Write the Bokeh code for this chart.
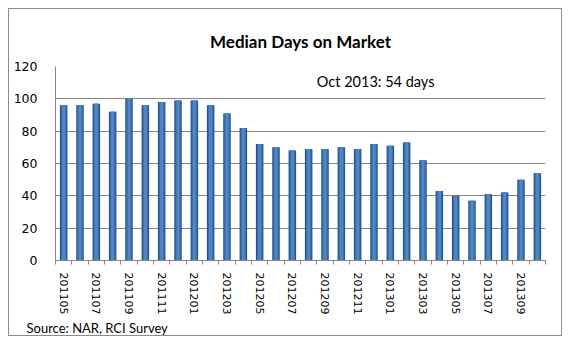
from bokeh.plotting import figure
from bokeh.models import Range1d, FixedTicker, Label, Title, ColumnDataSource
from bokeh.embed import file_html
from bokeh.resources import INLINE

months = ["201105", "201106", "201107", "201108", "201109", "201110",
          "201111", "201112", "201201", "201202", "201203", "201204",
          "201205", "201206", "201207", "201208", "201209", "201210",
          "201211", "201212", "201301", "201302", "201303", "201304",
          "201305", "201306", "201307", "201308", "201309", "201310"]
days = [96, 96, 97, 92, 100, 96, 98, 99, 99, 96, 91, 82,
        72, 70, 68, 69, 69, 70, 69, 72, 71, 73, 62, 43,
        40, 37, 41, 42, 50, 54]
y_ticks = [0, 20, 40, 60, 80, 100, 120]
title_text = "Median Days on Market"
note_text = "Oct 2013: 54 days"
source_text = "Source: NAR, RCI Survey"

n = len(months)
xs = list(range(1, n + 1))
src = ColumnDataSource(dict(x=xs, top=days))

p = figure(width=554, height=328, output_backend="svg", toolbar_location=None,
           x_range=Range1d(0.5, n + 0.5), y_range=Range1d(y_ticks[0], y_ticks[-1]),
           min_border_left=46, min_border_right=18, min_border_top=57,
           min_border_bottom=77, margin=(8, 8, 8, 8))
p.styles = {"border": "1px solid #8c8c8c"}
p.outline_line_color = None
p.background_fill_color = "white"
p.border_fill_color = "white"

p.title.text = title_text
p.title.align = "center"
p.title.vertical_align = "top"
p.title.text_font = "Lato"
p.title.text_font_style = "bold"
p.title.text_font_size = "17px"
p.title.text_color = "black"
p.title.standoff = 25

# bars with a simple shaded look
p.vbar(x="x", top="top", width=0.46, source=src, fill_color="#24538c", line_color=None)
p.vbar(x="x", top="top", width=0.34, source=src, fill_color="#3a6eae", line_color=None)
p.vbar(x="x", top="top", width=0.18, source=src, fill_color="#4f86c9", line_color=None)

# y axis
p.yaxis.ticker = FixedTicker(ticks=y_ticks)
p.yaxis.axis_line_color = "#868686"
p.yaxis.major_tick_line_color = None
p.yaxis.minor_tick_line_color = None
p.yaxis.major_label_text_font = "DejaVu Sans"
p.yaxis.major_label_text_font_size = "12.5px"
p.yaxis.major_label_text_color = "black"
p.yaxis.major_label_standoff = 12
p.ygrid.grid_line_color = "#868686"
p.ygrid.ticker = FixedTicker(ticks=y_ticks)
p.xgrid.grid_line_color = None

# x axis: labels on every other month, tick marks between months
p.xaxis.ticker = FixedTicker(ticks=xs[::2], minor_ticks=[i + 0.5 for i in range(0, n + 1)])
p.xaxis.major_label_overrides = {x: m for x, m in zip(xs, months)}
p.xaxis.major_label_orientation = "vertical"
p.xaxis.axis_line_color = "#868686"
p.xaxis.major_tick_line_color = None
p.xaxis.minor_tick_line_color = "#868686"
p.xaxis.minor_tick_out = 4
p.xaxis.minor_tick_in = 0
p.xaxis.major_label_text_font = "DejaVu Sans"
p.xaxis.major_label_text_font_size = "11px"
p.xaxis.major_label_text_color = "black"
p.xaxis.major_label_standoff = 6

p.add_layout(Label(x=20.1, y=111, text=note_text, text_align="center",
                   text_baseline="middle", text_font="Lato", text_font_size="14.5px",
                   text_color="black"))

p.add_layout(Title(text=source_text, align="left", text_font="Lato",
                   text_font_size="13px", text_font_style="normal",
                   text_color="black", offset=-29, standoff=0), "below")

open("out.html", "w").write(file_html(p, INLINE))
